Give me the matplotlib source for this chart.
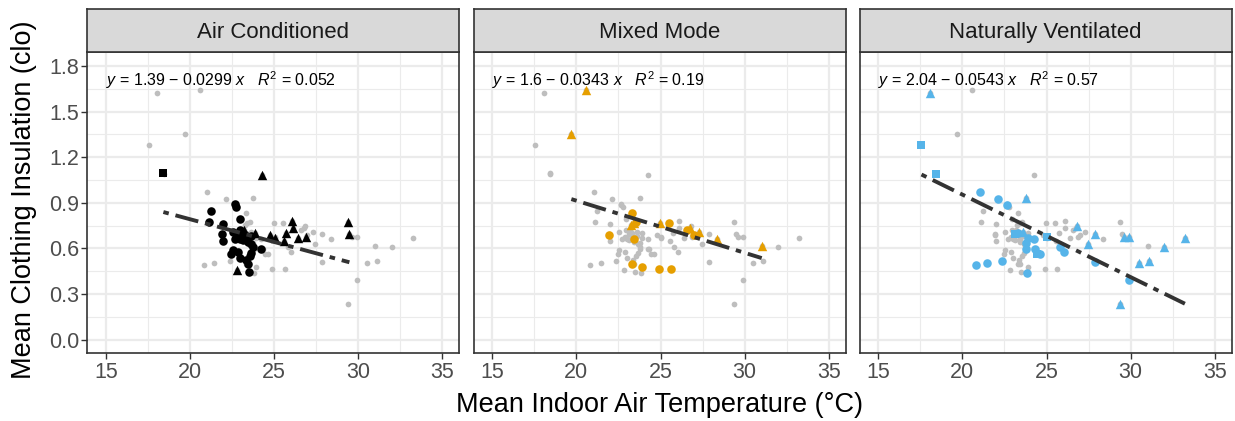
import numpy as np
import matplotlib
matplotlib.use("Agg")
import matplotlib.pyplot as plt

plt.rcParams["font.family"] = ["Liberation Sans", "DejaVu Sans"]
plt.rcParams["mathtext.fontset"] = "custom"
plt.rcParams["mathtext.rm"] = "Liberation Sans"
plt.rcParams["mathtext.it"] = "Liberation Sans:italic"
plt.rcParams["lines.scale_dashes"] = False

# building types (facets)
panels = ["Air Conditioned", "Mixed Mode", "Naturally Ventilated"]
panel_colors = ["#000000", "#E69F00", "#56B4E9"]

# Air Conditioned: temperature, clo, marker
ac_temp = [18.42, 24.28, 22.82, 26.08, 26.12, 25.72, 23.88, 24.77, 25.03, 25.58,
           26.41, 26.87, 29.37, 29.47, 23.20,
           22.66, 22.76, 21.22, 21.12, 21.97, 22.97, 21.91, 21.97, 22.56, 22.86,
           23.15, 23.45, 23.65, 22.96, 23.25, 24.24, 22.56, 22.46, 22.86, 23.65,
           23.55, 23.35, 23.45, 23.49, 23.00, 23.75, 23.00, 23.60, 22.70]
ac_clo = [1.095, 1.080, 0.456, 0.782, 0.731, 0.703, 0.703, 0.685, 0.670, 0.650,
          0.670, 0.676, 0.775, 0.698, 0.720,
          0.892, 0.875, 0.848, 0.775, 0.758, 0.791, 0.698, 0.650, 0.709, 0.676,
          0.654, 0.643, 0.632, 0.720, 0.687, 0.595, 0.588, 0.562, 0.577, 0.571,
          0.549, 0.522, 0.500, 0.445, 0.540, 0.610, 0.660, 0.680, 0.660]
ac_shape = ["s"] + ["^"] * 14 + ["o"] * 29

# Mixed Mode
mm_temp = [20.57, 19.70, 23.25, 24.97, 26.77, 27.30, 28.38, 31.01, 23.40,
           23.31, 23.55, 25.52, 21.93, 23.45, 23.31, 23.90, 24.89, 25.62, 26.98, 26.60]
mm_clo = [1.641, 1.353, 0.753, 0.764, 0.731, 0.709, 0.659, 0.615, 0.765,
          0.831, 0.776, 0.764, 0.687, 0.659, 0.500, 0.478, 0.463, 0.463, 0.685, 0.720]
mm_shape = ["^"] * 9 + ["o"] * 11

# Naturally Ventilated
nv_temp = [17.57, 18.46, 23.11, 24.44, 25.03,
           18.06, 23.75, 26.81, 27.85, 27.44, 29.63, 29.91, 32.00, 33.22, 30.50,
           31.11, 29.39, 23.60,
           21.04, 22.13, 22.66, 20.82, 21.44, 22.36, 23.81, 27.85, 29.91, 23.75,
           23.79, 24.34, 24.63, 25.82, 26.02, 24.24, 23.30, 23.90]
nv_clo = [1.280, 1.091, 0.698, 0.562, 0.676,
          1.624, 0.934, 0.747, 0.692, 0.632, 0.672, 0.672, 0.610, 0.670, 0.507,
          0.518, 0.236, 0.710,
          0.974, 0.925, 0.886, 0.489, 0.507, 0.518, 0.438, 0.511, 0.390, 0.637,
          0.593, 0.599, 0.566, 0.610, 0.577, 0.665, 0.700, 0.670]
nv_shape = ["s"] * 5 + ["^"] * 13 + ["o"] * 18

# fitted lines shown in each panel: intercept, slope, R^2
fit_intercept = [1.39, 1.6, 2.04]
fit_slope = [-0.0299, -0.0343, -0.0543]
fit_r2 = ["0.052", "0.19", "0.57"]

x_ticks = [15, 20, 25, 30, 35]
y_ticks = [0.0, 0.3, 0.6, 0.9, 1.2, 1.5, 1.8]

data = [(ac_temp, ac_clo, ac_shape), (mm_temp, mm_clo, mm_shape),
        (nv_temp, nv_clo, nv_shape)]
all_temp = np.array(ac_temp + mm_temp + nv_temp)
all_clo = np.array(ac_clo + mm_clo + nv_clo)

W, H = 1235, 421
fig = plt.figure(figsize=(W / 100, H / 100), dpi=100)

lefts = [87.3, 473.7, 859.7]
pw = 372.0
p_top, p_bot = 52.3, 353.3
s_top = 9.3
edge = "#333333"

for i, name in enumerate(panels):
    ax = fig.add_axes([lefts[i] / W, (H - p_bot) / H, pw / W, (p_bot - p_top) / H])
    sx = fig.add_axes([lefts[i] / W, (H - p_top) / H, pw / W, (p_top - s_top) / H])

    ax.set_xlim(13.9, 36.0)
    ax.set_ylim(-0.09, 1.89)
    ax.set_xticks(x_ticks)
    ax.set_yticks(y_ticks)
    ax.set_xticks([17.5, 22.5, 27.5, 32.5], minor=True)
    ax.set_yticks(np.arange(0.15, 1.8, 0.3), minor=True)
    ax.grid(True, which="major", color="#EBEBEB", lw=1.6, zorder=0)
    ax.grid(True, which="minor", color="#EBEBEB", lw=0.8, zorder=0)
    ax.set_axisbelow(True)
    for sp in ax.spines.values():
        sp.set_color(edge)
        sp.set_linewidth(1.2)
    ax.tick_params(which="major", length=4, width=1.0, color=edge,
                   labelcolor="#4D4D4D", labelsize=15.5, pad=2)
    ax.tick_params(which="minor", length=0)
    ax.set_yticklabels([f"{v:.1f}" for v in y_ticks])
    if i > 0:
        ax.tick_params(axis="y", labelleft=False, length=0)

    # all buildings in grey behind
    ax.scatter(all_temp, all_clo, s=17, color="#BEBEBE", lw=0, zorder=2)

    temp, clo, shape = data[i]
    temp = np.array(temp)
    clo = np.array(clo)
    shape = np.array(shape)
    for m, sz in [("o", 38), ("^", 46), ("s", 32)]:
        sel = shape == m
        ax.scatter(temp[sel], clo[sel], s=sz, marker=m, color=panel_colors[i],
                   lw=0, zorder=3)

    xs = np.array([temp.min(), temp.max()])
    ax.plot(xs, fit_intercept[i] + fit_slope[i] * xs, color="#333333", lw=2.8,
            ls=(0, (4, 5, 17, 5)), zorder=4, solid_capstyle="butt")

    eq = (r"$y$ = " + f"{fit_intercept[i]:g} \u2212 {abs(fit_slope[i]):g} "
          + r"$x$   $R^2$ = " + fit_r2[i])
    ax.text(15.0, 1.667, eq, fontsize=11.5, ha="left", va="baseline", zorder=5)

    sx.set_facecolor("#D9D9D9")
    sx.set_xticks([])
    sx.set_yticks([])
    for sp in sx.spines.values():
        sp.set_color(edge)
        sp.set_linewidth(1.2)
    sx.text(0.5, 0.47, name, transform=sx.transAxes, ha="center", va="center",
            fontsize=16, color="#1A1A1A")

fig.text(659.5 / W, 9 / H, "Mean Indoor Air Temperature (\u00b0C)", ha="center",
         va="baseline", fontsize=19.5)
fig.text(24 / W, (H - 200) / H, "Mean Clothing Insulation (clo)", ha="center",
         va="center", rotation=90, fontsize=19.5)

fig.savefig("out.png", dpi=100)
